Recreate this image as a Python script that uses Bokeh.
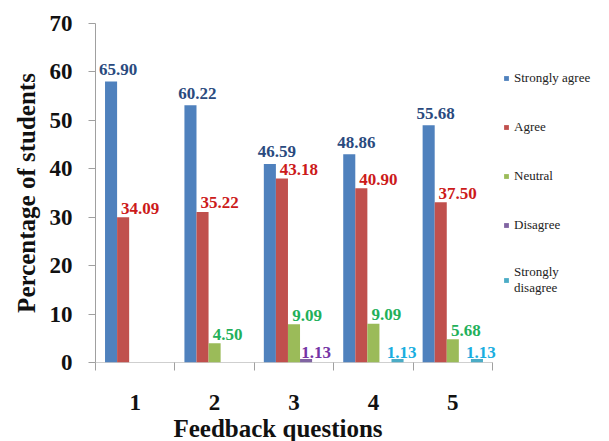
from bokeh.plotting import figure
from bokeh.models import Range1d, FixedTicker, Legend, LegendItem, ColumnDataSource, Title
from bokeh.core.properties import value
from bokeh.embed import file_html
from bokeh.resources import INLINE

questions = [1, 2, 3, 4, 5]
question_labels = ["1", "2", "3", "4", "5"]
y_ticks = [0, 10, 20, 30, 40, 50, 60, 70]
series_names = ["Strongly agree", "Agree", "Neutral", "Disagree", "Strongly\ndisagree"]

# bar heights as drawn in the picture
strongly_agree = [58.0, 53.1, 41.0, 43.0, 49.0]
agree = [30.0, 31.1, 38.0, 36.0, 33.1]
neutral = [0.0, 4.0, 7.9, 8.0, 4.8]
disagree = [0.0, 0.0, 0.7, 0.0, 0.0]
strongly_disagree = [0.0, 0.0, 0.0, 0.7, 0.7]

# data labels printed above the bars
lab_strongly_agree = ["65.90", "60.22", "46.59", "48.86", "55.68"]
lab_agree = ["34.09", "35.22", "43.18", "40.90", "37.50"]
lab_neutral = ["", "4.50", "9.09", "9.09", "5.68"]
lab_disagree = ["", "", "1.13", "", ""]
lab_strongly_disagree = ["", "", "", "1.13", "1.13"]

bar_colors = ["#4F81BD", "#C0504D", "#9BBB59", "#8064A2", "#4BACC6"]
label_colors = ["#2A4A7E", "#CC1A1A", "#22B05A", "#7534A5", "#1AAEE0"]
label_dx = [7, 17, 13, 10, 4]
label_dy = [-12, -9, -9, -7, -7]

values = [strongly_agree, agree, neutral, disagree, strongly_disagree]
labels = [lab_strongly_agree, lab_agree, lab_neutral, lab_disagree, lab_strongly_disagree]

FONT = "Liberation Serif"
AXIS_GRAY = "#A0A0A0"

# layout: plot area of the categories spans 95..492 px; the frame continues to the right edge
LEFT, RIGHT_CAT, W = 95, 492, 609
px_per_unit = (RIGHT_CAT - LEFT) / 5.0
x_end = 5.5 + (W - RIGHT_CAT) / px_per_unit

p = figure(width=W, height=441, x_range=Range1d(0.5, x_end), y_range=Range1d(0, 70),
           output_backend="svg", toolbar_location=None,
           min_border_left=LEFT, min_border_right=0, min_border_top=23, min_border_bottom=77)
p.outline_line_color = None
p.grid.visible = False
p.background_fill_color = "white"
p.border_fill_color = "white"

# category axis baseline (only under the categories)
p.segment(x0=[0.5], y0=[0], x1=[5.5], y1=[0], line_color=AXIS_GRAY, line_width=1)

w = 0.152
items = []
for k in range(5):
    xs = [q + (k - 2) * w for q in questions]
    src = ColumnDataSource(dict(x=xs, top=values[k], lab=labels[k]))
    r = p.vbar(x="x", top="top", bottom=0, width=w, source=src,
               fill_color=bar_colors[k], line_color=None)
    p.text(x="x", y="top", text="lab", source=src, x_offset=label_dx[k], y_offset=label_dy[k],
           text_align="center", text_baseline="alphabetic",
           text_font=value(FONT), text_font_style="bold", text_font_size="17px",
           text_color=label_colors[k])
    items.append(LegendItem(label=series_names[k], renderers=[r]))

legend = Legend(items=items, location=(RIGHT_CAT + 11 - LEFT, 66), glyph_width=6, glyph_height=6,
                label_text_font=FONT, label_text_font_size="13px", label_text_color="#222222",
                padding=0, margin=0, spacing=29, label_height=20, label_standoff=5,
                border_line_color=None, background_fill_alpha=0)
p.add_layout(legend)

xa = p.xaxis[0]
xa.ticker = FixedTicker(ticks=questions, minor_ticks=[0.5, 1.5, 2.5, 3.5, 4.5, 5.5])
xa.major_label_overrides = {q: l for q, l in zip(questions, question_labels)}
xa.major_tick_line_color = None
xa.major_tick_out = 0
xa.major_tick_in = 0
xa.minor_tick_out = 8
xa.minor_tick_in = 0
xa.minor_tick_line_color = AXIS_GRAY
xa.axis_line_color = None
xa.major_label_standoff = 24
xa.major_label_text_font = FONT
xa.major_label_text_font_style = "bold"
xa.major_label_text_font_size = "23px"
xa.major_label_text_color = "#111111"

xtitle = Title(text="Feedback questions", align="left", offset=78, standoff=0,
               text_font=FONT, text_font_style="bold", text_font_size="25px", text_color="#111111")
p.add_layout(xtitle, "below")

ya = p.yaxis[0]
ya.ticker = FixedTicker(ticks=y_ticks)
ya.major_tick_out = 7
ya.major_tick_in = 0
ya.minor_tick_line_color = None
ya.major_tick_line_color = AXIS_GRAY
ya.axis_line_color = AXIS_GRAY
ya.major_label_standoff = 16
ya.major_label_text_font = FONT
ya.major_label_text_font_style = "bold"
ya.major_label_text_font_size = "23px"
ya.major_label_text_color = "#111111"
ya.axis_label = "Percentage of students"
ya.axis_label_text_font = FONT
ya.axis_label_text_font_style = "bold"
ya.axis_label_text_font_size = "25px"
ya.axis_label_text_color = "#111111"
ya.axis_label_standoff = 7

open("out.html", "w").write(file_html(p, INLINE))
